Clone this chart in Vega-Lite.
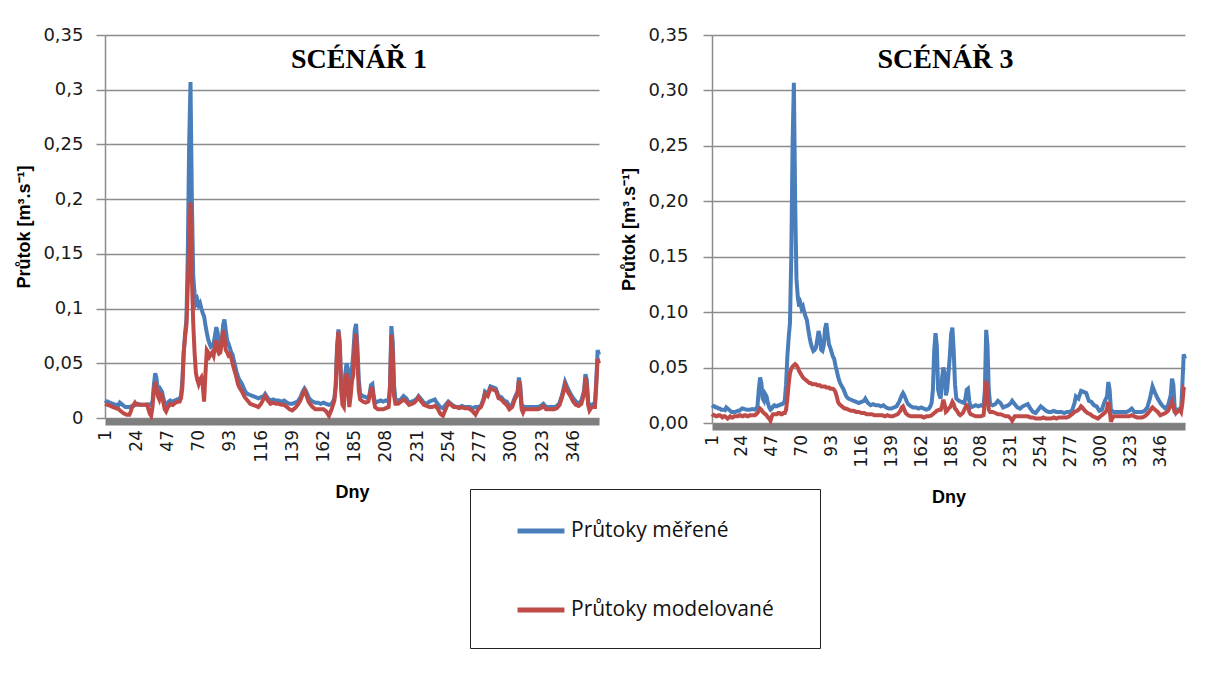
{
  "$schema": "https://vega.github.io/schema/vega-lite/v6.json",
  "background": "white",
  "padding": {"left": 15, "top": 26, "right": 0, "bottom": 0},
  "spacing": 13,
  "datasets": {
    "mereni": [
      {"den": 1, "prutok": 0.016}, {"den": 2, "prutok": 0.015}, {"den": 3, "prutok": 0.015}, {"den": 4, "prutok": 0.014}, {"den": 5, "prutok": 0.014},
      {"den": 6, "prutok": 0.013}, {"den": 7, "prutok": 0.013}, {"den": 8, "prutok": 0.012}, {"den": 9, "prutok": 0.012}, {"den": 10, "prutok": 0.012},
      {"den": 11, "prutok": 0.0115}, {"den": 12, "prutok": 0.014}, {"den": 13, "prutok": 0.013}, {"den": 14, "prutok": 0.012}, {"den": 15, "prutok": 0.011},
      {"den": 16, "prutok": 0.010}, {"den": 17, "prutok": 0.010}, {"den": 18, "prutok": 0.010}, {"den": 19, "prutok": 0.010}, {"den": 20, "prutok": 0.0105},
      {"den": 21, "prutok": 0.011}, {"den": 22, "prutok": 0.011}, {"den": 23, "prutok": 0.012}, {"den": 24, "prutok": 0.013}, {"den": 25, "prutok": 0.013},
      {"den": 26, "prutok": 0.0125}, {"den": 28, "prutok": 0.012}, {"den": 30, "prutok": 0.012}, {"den": 32, "prutok": 0.0125}, {"den": 34, "prutok": 0.012},
      {"den": 35, "prutok": 0.013}, {"den": 36, "prutok": 0.015}, {"den": 37, "prutok": 0.030}, {"den": 38, "prutok": 0.041}, {"den": 39, "prutok": 0.036},
      {"den": 40, "prutok": 0.022}, {"den": 41, "prutok": 0.020}, {"den": 42, "prutok": 0.026}, {"den": 43, "prutok": 0.024}, {"den": 44, "prutok": 0.018},
      {"den": 45, "prutok": 0.014}, {"den": 46, "prutok": 0.012}, {"den": 47, "prutok": 0.013}, {"den": 48, "prutok": 0.015}, {"den": 49, "prutok": 0.016},
      {"den": 50, "prutok": 0.015}, {"den": 51, "prutok": 0.015}, {"den": 52, "prutok": 0.016}, {"den": 53, "prutok": 0.016}, {"den": 54, "prutok": 0.017},
      {"den": 55, "prutok": 0.017}, {"den": 56, "prutok": 0.018}, {"den": 57, "prutok": 0.020}, {"den": 58, "prutok": 0.035}, {"den": 59, "prutok": 0.060},
      {"den": 60, "prutok": 0.077}, {"den": 61, "prutok": 0.090}, {"den": 62, "prutok": 0.150}, {"den": 63, "prutok": 0.250}, {"den": 64, "prutok": 0.307},
      {"den": 65, "prutok": 0.200}, {"den": 66, "prutok": 0.130}, {"den": 67, "prutok": 0.114}, {"den": 68, "prutok": 0.105}, {"den": 69, "prutok": 0.108},
      {"den": 70, "prutok": 0.103}, {"den": 71, "prutok": 0.105}, {"den": 72, "prutok": 0.100}, {"den": 73, "prutok": 0.096}, {"den": 74, "prutok": 0.093},
      {"den": 75, "prutok": 0.085}, {"den": 76, "prutok": 0.078}, {"den": 77, "prutok": 0.072}, {"den": 78, "prutok": 0.068}, {"den": 79, "prutok": 0.065},
      {"den": 80, "prutok": 0.066}, {"den": 81, "prutok": 0.068}, {"den": 82, "prutok": 0.075}, {"den": 83, "prutok": 0.083}, {"den": 84, "prutok": 0.078},
      {"den": 85, "prutok": 0.066}, {"den": 86, "prutok": 0.065}, {"den": 87, "prutok": 0.070}, {"den": 88, "prutok": 0.085}, {"den": 89, "prutok": 0.090},
      {"den": 90, "prutok": 0.080}, {"den": 91, "prutok": 0.071}, {"den": 92, "prutok": 0.068}, {"den": 93, "prutok": 0.064}, {"den": 94, "prutok": 0.060},
      {"den": 95, "prutok": 0.058}, {"den": 96, "prutok": 0.052}, {"den": 97, "prutok": 0.047}, {"den": 98, "prutok": 0.042}, {"den": 99, "prutok": 0.038},
      {"den": 100, "prutok": 0.035}, {"den": 101, "prutok": 0.033}, {"den": 102, "prutok": 0.031}, {"den": 103, "prutok": 0.028}, {"den": 104, "prutok": 0.025},
      {"den": 105, "prutok": 0.023}, {"den": 106, "prutok": 0.022}, {"den": 108, "prutok": 0.021}, {"den": 110, "prutok": 0.020}, {"den": 112, "prutok": 0.019},
      {"den": 114, "prutok": 0.018}, {"den": 116, "prutok": 0.019}, {"den": 118, "prutok": 0.020}, {"den": 119, "prutok": 0.022}, {"den": 120, "prutok": 0.020},
      {"den": 121, "prutok": 0.018}, {"den": 123, "prutok": 0.016}, {"den": 125, "prutok": 0.017}, {"den": 127, "prutok": 0.016}, {"den": 129, "prutok": 0.016},
      {"den": 131, "prutok": 0.015}, {"den": 133, "prutok": 0.016}, {"den": 135, "prutok": 0.014}, {"den": 137, "prutok": 0.013}, {"den": 139, "prutok": 0.013},
      {"den": 141, "prutok": 0.014}, {"den": 143, "prutok": 0.015}, {"den": 145, "prutok": 0.019}, {"den": 146, "prutok": 0.022}, {"den": 147, "prutok": 0.025},
      {"den": 148, "prutok": 0.027}, {"den": 149, "prutok": 0.025}, {"den": 150, "prutok": 0.022}, {"den": 151, "prutok": 0.019}, {"den": 152, "prutok": 0.017},
      {"den": 154, "prutok": 0.015}, {"den": 156, "prutok": 0.014}, {"den": 158, "prutok": 0.014}, {"den": 160, "prutok": 0.013}, {"den": 162, "prutok": 0.014},
      {"den": 164, "prutok": 0.013}, {"den": 166, "prutok": 0.012}, {"den": 168, "prutok": 0.013}, {"den": 169, "prutok": 0.015}, {"den": 170, "prutok": 0.018},
      {"den": 171, "prutok": 0.030}, {"den": 172, "prutok": 0.065}, {"den": 173, "prutok": 0.081}, {"den": 174, "prutok": 0.070}, {"den": 175, "prutok": 0.030},
      {"den": 176, "prutok": 0.025}, {"den": 177, "prutok": 0.022}, {"den": 178, "prutok": 0.040}, {"den": 179, "prutok": 0.050}, {"den": 180, "prutok": 0.045},
      {"den": 181, "prutok": 0.025}, {"den": 182, "prutok": 0.030}, {"den": 183, "prutok": 0.045}, {"den": 184, "prutok": 0.060}, {"den": 185, "prutok": 0.080},
      {"den": 186, "prutok": 0.086}, {"den": 187, "prutok": 0.065}, {"den": 188, "prutok": 0.035}, {"den": 189, "prutok": 0.022}, {"den": 190, "prutok": 0.021},
      {"den": 191, "prutok": 0.020}, {"den": 193, "prutok": 0.019}, {"den": 195, "prutok": 0.018}, {"den": 196, "prutok": 0.022}, {"den": 197, "prutok": 0.030},
      {"den": 198, "prutok": 0.031}, {"den": 199, "prutok": 0.020}, {"den": 200, "prutok": 0.014}, {"den": 202, "prutok": 0.015}, {"den": 204, "prutok": 0.016},
      {"den": 206, "prutok": 0.015}, {"den": 208, "prutok": 0.016}, {"den": 210, "prutok": 0.015}, {"den": 211, "prutok": 0.030}, {"den": 212, "prutok": 0.084},
      {"den": 213, "prutok": 0.070}, {"den": 214, "prutok": 0.030}, {"den": 215, "prutok": 0.017}, {"den": 217, "prutok": 0.016}, {"den": 219, "prutok": 0.017},
      {"den": 221, "prutok": 0.020}, {"den": 223, "prutok": 0.018}, {"den": 225, "prutok": 0.014}, {"den": 227, "prutok": 0.015}, {"den": 229, "prutok": 0.016},
      {"den": 231, "prutok": 0.018}, {"den": 232, "prutok": 0.020}, {"den": 234, "prutok": 0.017}, {"den": 236, "prutok": 0.014}, {"den": 238, "prutok": 0.013},
      {"den": 240, "prutok": 0.015}, {"den": 242, "prutok": 0.016}, {"den": 244, "prutok": 0.017}, {"den": 246, "prutok": 0.013}, {"den": 248, "prutok": 0.010},
      {"den": 250, "prutok": 0.009}, {"den": 252, "prutok": 0.012}, {"den": 254, "prutok": 0.015}, {"den": 256, "prutok": 0.013}, {"den": 258, "prutok": 0.011},
      {"den": 260, "prutok": 0.010}, {"den": 262, "prutok": 0.010}, {"den": 264, "prutok": 0.011}, {"den": 266, "prutok": 0.010}, {"den": 268, "prutok": 0.010},
      {"den": 270, "prutok": 0.010}, {"den": 272, "prutok": 0.009}, {"den": 274, "prutok": 0.010}, {"den": 276, "prutok": 0.010}, {"den": 278, "prutok": 0.011},
      {"den": 280, "prutok": 0.018}, {"den": 281, "prutok": 0.024}, {"den": 283, "prutok": 0.022}, {"den": 285, "prutok": 0.029}, {"den": 287, "prutok": 0.028},
      {"den": 289, "prutok": 0.027}, {"den": 291, "prutok": 0.020}, {"den": 293, "prutok": 0.019}, {"den": 295, "prutok": 0.016}, {"den": 297, "prutok": 0.015},
      {"den": 299, "prutok": 0.011}, {"den": 301, "prutok": 0.012}, {"den": 303, "prutok": 0.019}, {"den": 305, "prutok": 0.024}, {"den": 306, "prutok": 0.037},
      {"den": 307, "prutok": 0.030}, {"den": 308, "prutok": 0.012}, {"den": 310, "prutok": 0.010}, {"den": 312, "prutok": 0.010}, {"den": 314, "prutok": 0.010},
      {"den": 316, "prutok": 0.010}, {"den": 318, "prutok": 0.010}, {"den": 320, "prutok": 0.010}, {"den": 322, "prutok": 0.011}, {"den": 324, "prutok": 0.013},
      {"den": 326, "prutok": 0.010}, {"den": 328, "prutok": 0.010}, {"den": 330, "prutok": 0.010}, {"den": 332, "prutok": 0.010}, {"den": 334, "prutok": 0.011},
      {"den": 336, "prutok": 0.014}, {"den": 338, "prutok": 0.022}, {"den": 340, "prutok": 0.033}, {"den": 342, "prutok": 0.027}, {"den": 344, "prutok": 0.022},
      {"den": 346, "prutok": 0.018}, {"den": 348, "prutok": 0.015}, {"den": 350, "prutok": 0.013}, {"den": 352, "prutok": 0.016}, {"den": 354, "prutok": 0.025},
      {"den": 355, "prutok": 0.040}, {"den": 356, "prutok": 0.035}, {"den": 357, "prutok": 0.015}, {"den": 358, "prutok": 0.010}, {"den": 359, "prutok": 0.012},
      {"den": 360, "prutok": 0.012}, {"den": 361, "prutok": 0.013}, {"den": 362, "prutok": 0.012}, {"den": 363, "prutok": 0.035}, {"den": 364, "prutok": 0.062},
      {"den": 365, "prutok": 0.058}
    ],
    "scenar1": [
      {"den": 1, "prutok": 0.013}, {"den": 3, "prutok": 0.012}, {"den": 5, "prutok": 0.011}, {"den": 7, "prutok": 0.010}, {"den": 9, "prutok": 0.009},
      {"den": 11, "prutok": 0.008}, {"den": 13, "prutok": 0.006}, {"den": 15, "prutok": 0.004}, {"den": 17, "prutok": 0.003}, {"den": 19, "prutok": 0.003},
      {"den": 20, "prutok": 0.006}, {"den": 21, "prutok": 0.010}, {"den": 23, "prutok": 0.014}, {"den": 24, "prutok": 0.012}, {"den": 26, "prutok": 0.012},
      {"den": 28, "prutok": 0.012}, {"den": 30, "prutok": 0.012}, {"den": 32, "prutok": 0.012}, {"den": 34, "prutok": 0.004}, {"den": 35, "prutok": 0.002},
      {"den": 36, "prutok": 0.010}, {"den": 37, "prutok": 0.025}, {"den": 38, "prutok": 0.033}, {"den": 39, "prutok": 0.028}, {"den": 40, "prutok": 0.020},
      {"den": 41, "prutok": 0.017}, {"den": 42, "prutok": 0.022}, {"den": 43, "prutok": 0.021}, {"den": 44, "prutok": 0.014}, {"den": 45, "prutok": 0.008},
      {"den": 46, "prutok": 0.006}, {"den": 47, "prutok": 0.009}, {"den": 49, "prutok": 0.013}, {"den": 51, "prutok": 0.012}, {"den": 53, "prutok": 0.014},
      {"den": 55, "prutok": 0.015}, {"den": 56, "prutok": 0.015}, {"den": 57, "prutok": 0.018}, {"den": 58, "prutok": 0.028}, {"den": 59, "prutok": 0.060},
      {"den": 60, "prutok": 0.074}, {"den": 61, "prutok": 0.085}, {"den": 62, "prutok": 0.120}, {"den": 63, "prutok": 0.160}, {"den": 64, "prutok": 0.197},
      {"den": 65, "prutok": 0.130}, {"den": 66, "prutok": 0.087}, {"den": 67, "prutok": 0.060}, {"den": 68, "prutok": 0.041}, {"den": 69, "prutok": 0.035},
      {"den": 70, "prutok": 0.031}, {"den": 71, "prutok": 0.035}, {"den": 72, "prutok": 0.037}, {"den": 73, "prutok": 0.030}, {"den": 74, "prutok": 0.015},
      {"den": 75, "prutok": 0.040}, {"den": 76, "prutok": 0.062}, {"den": 77, "prutok": 0.060}, {"den": 78, "prutok": 0.056}, {"den": 79, "prutok": 0.058},
      {"den": 80, "prutok": 0.060}, {"den": 81, "prutok": 0.057}, {"den": 82, "prutok": 0.065}, {"den": 83, "prutok": 0.071}, {"den": 84, "prutok": 0.062},
      {"den": 85, "prutok": 0.059}, {"den": 86, "prutok": 0.060}, {"den": 87, "prutok": 0.068}, {"den": 88, "prutok": 0.080}, {"den": 89, "prutok": 0.074},
      {"den": 90, "prutok": 0.062}, {"den": 91, "prutok": 0.060}, {"den": 92, "prutok": 0.057}, {"den": 93, "prutok": 0.058}, {"den": 94, "prutok": 0.055},
      {"den": 95, "prutok": 0.050}, {"den": 96, "prutok": 0.045}, {"den": 97, "prutok": 0.041}, {"den": 98, "prutok": 0.036}, {"den": 99, "prutok": 0.031},
      {"den": 100, "prutok": 0.028}, {"den": 102, "prutok": 0.024}, {"den": 104, "prutok": 0.019}, {"den": 106, "prutok": 0.016}, {"den": 108, "prutok": 0.013},
      {"den": 110, "prutok": 0.012}, {"den": 112, "prutok": 0.011}, {"den": 114, "prutok": 0.010}, {"den": 116, "prutok": 0.013}, {"den": 118, "prutok": 0.018},
      {"den": 119, "prutok": 0.020}, {"den": 121, "prutok": 0.016}, {"den": 123, "prutok": 0.013}, {"den": 125, "prutok": 0.014}, {"den": 127, "prutok": 0.013},
      {"den": 129, "prutok": 0.013}, {"den": 131, "prutok": 0.012}, {"den": 133, "prutok": 0.012}, {"den": 135, "prutok": 0.010}, {"den": 137, "prutok": 0.008},
      {"den": 139, "prutok": 0.007}, {"den": 141, "prutok": 0.009}, {"den": 143, "prutok": 0.012}, {"den": 145, "prutok": 0.016}, {"den": 147, "prutok": 0.023},
      {"den": 148, "prutok": 0.025}, {"den": 149, "prutok": 0.022}, {"den": 151, "prutok": 0.015}, {"den": 152, "prutok": 0.013}, {"den": 154, "prutok": 0.010},
      {"den": 156, "prutok": 0.008}, {"den": 158, "prutok": 0.008}, {"den": 160, "prutok": 0.008}, {"den": 162, "prutok": 0.008}, {"den": 164, "prutok": 0.006},
      {"den": 166, "prutok": 0.002}, {"den": 168, "prutok": 0.008}, {"den": 170, "prutok": 0.016}, {"den": 171, "prutok": 0.028}, {"den": 172, "prutok": 0.062},
      {"den": 173, "prutok": 0.079}, {"den": 174, "prutok": 0.065}, {"den": 175, "prutok": 0.025}, {"den": 176, "prutok": 0.012}, {"den": 177, "prutok": 0.010},
      {"den": 178, "prutok": 0.030}, {"den": 179, "prutok": 0.041}, {"den": 180, "prutok": 0.030}, {"den": 181, "prutok": 0.010}, {"den": 182, "prutok": 0.020},
      {"den": 183, "prutok": 0.034}, {"den": 184, "prutok": 0.040}, {"den": 185, "prutok": 0.070}, {"den": 186, "prutok": 0.077}, {"den": 187, "prutok": 0.055},
      {"den": 188, "prutok": 0.025}, {"den": 189, "prutok": 0.017}, {"den": 191, "prutok": 0.015}, {"den": 193, "prutok": 0.014}, {"den": 195, "prutok": 0.015},
      {"den": 196, "prutok": 0.020}, {"den": 197, "prutok": 0.027}, {"den": 198, "prutok": 0.027}, {"den": 199, "prutok": 0.017}, {"den": 200, "prutok": 0.010},
      {"den": 202, "prutok": 0.008}, {"den": 204, "prutok": 0.008}, {"den": 206, "prutok": 0.008}, {"den": 208, "prutok": 0.009}, {"den": 210, "prutok": 0.010},
      {"den": 211, "prutok": 0.025}, {"den": 212, "prutok": 0.076}, {"den": 213, "prutok": 0.060}, {"den": 214, "prutok": 0.020}, {"den": 215, "prutok": 0.013},
      {"den": 217, "prutok": 0.013}, {"den": 219, "prutok": 0.015}, {"den": 221, "prutok": 0.017}, {"den": 223, "prutok": 0.015}, {"den": 225, "prutok": 0.012},
      {"den": 227, "prutok": 0.013}, {"den": 229, "prutok": 0.014}, {"den": 231, "prutok": 0.017}, {"den": 232, "prutok": 0.019}, {"den": 234, "prutok": 0.015},
      {"den": 236, "prutok": 0.012}, {"den": 238, "prutok": 0.011}, {"den": 240, "prutok": 0.010}, {"den": 242, "prutok": 0.010}, {"den": 244, "prutok": 0.011},
      {"den": 246, "prutok": 0.009}, {"den": 248, "prutok": 0.004}, {"den": 250, "prutok": 0.002}, {"den": 252, "prutok": 0.008}, {"den": 254, "prutok": 0.014},
      {"den": 256, "prutok": 0.012}, {"den": 258, "prutok": 0.010}, {"den": 260, "prutok": 0.010}, {"den": 262, "prutok": 0.009}, {"den": 264, "prutok": 0.010},
      {"den": 266, "prutok": 0.009}, {"den": 268, "prutok": 0.009}, {"den": 270, "prutok": 0.008}, {"den": 272, "prutok": 0.006}, {"den": 274, "prutok": 0.003},
      {"den": 276, "prutok": 0.008}, {"den": 278, "prutok": 0.010}, {"den": 280, "prutok": 0.016}, {"den": 281, "prutok": 0.022}, {"den": 283, "prutok": 0.020},
      {"den": 285, "prutok": 0.027}, {"den": 287, "prutok": 0.026}, {"den": 289, "prutok": 0.025}, {"den": 291, "prutok": 0.018}, {"den": 293, "prutok": 0.017},
      {"den": 295, "prutok": 0.014}, {"den": 297, "prutok": 0.012}, {"den": 299, "prutok": 0.008}, {"den": 301, "prutok": 0.010}, {"den": 303, "prutok": 0.017},
      {"den": 305, "prutok": 0.022}, {"den": 306, "prutok": 0.034}, {"den": 307, "prutok": 0.025}, {"den": 308, "prutok": 0.008}, {"den": 309, "prutok": 0.005},
      {"den": 310, "prutok": 0.008}, {"den": 312, "prutok": 0.008}, {"den": 314, "prutok": 0.008}, {"den": 316, "prutok": 0.008}, {"den": 318, "prutok": 0.008},
      {"den": 320, "prutok": 0.008}, {"den": 322, "prutok": 0.009}, {"den": 324, "prutok": 0.011}, {"den": 326, "prutok": 0.008}, {"den": 328, "prutok": 0.008},
      {"den": 330, "prutok": 0.008}, {"den": 332, "prutok": 0.008}, {"den": 334, "prutok": 0.009}, {"den": 336, "prutok": 0.012}, {"den": 338, "prutok": 0.020},
      {"den": 340, "prutok": 0.030}, {"den": 342, "prutok": 0.024}, {"den": 344, "prutok": 0.020}, {"den": 346, "prutok": 0.015}, {"den": 348, "prutok": 0.012},
      {"den": 350, "prutok": 0.011}, {"den": 352, "prutok": 0.013}, {"den": 354, "prutok": 0.022}, {"den": 355, "prutok": 0.037}, {"den": 356, "prutok": 0.030},
      {"den": 357, "prutok": 0.012}, {"den": 358, "prutok": 0.007}, {"den": 359, "prutok": 0.009}, {"den": 360, "prutok": 0.010}, {"den": 362, "prutok": 0.010},
      {"den": 363, "prutok": 0.030}, {"den": 364, "prutok": 0.054}, {"den": 365, "prutok": 0.050}
    ],
    "scenar3": [
      {"den": 1, "prutok": 0.008}, {"den": 2, "prutok": 0.007}, {"den": 3, "prutok": 0.007}, {"den": 4, "prutok": 0.006}, {"den": 5, "prutok": 0.006},
      {"den": 6, "prutok": 0.007}, {"den": 7, "prutok": 0.007}, {"den": 8, "prutok": 0.006}, {"den": 9, "prutok": 0.005}, {"den": 10, "prutok": 0.006},
      {"den": 11, "prutok": 0.006}, {"den": 12, "prutok": 0.005}, {"den": 13, "prutok": 0.004}, {"den": 14, "prutok": 0.005}, {"den": 15, "prutok": 0.006},
      {"den": 16, "prutok": 0.005}, {"den": 17, "prutok": 0.005}, {"den": 18, "prutok": 0.006}, {"den": 19, "prutok": 0.006}, {"den": 20, "prutok": 0.006},
      {"den": 21, "prutok": 0.006}, {"den": 22, "prutok": 0.007}, {"den": 23, "prutok": 0.007}, {"den": 24, "prutok": 0.006}, {"den": 25, "prutok": 0.006},
      {"den": 26, "prutok": 0.007}, {"den": 27, "prutok": 0.007}, {"den": 28, "prutok": 0.006}, {"den": 29, "prutok": 0.006}, {"den": 30, "prutok": 0.007},
      {"den": 31, "prutok": 0.007}, {"den": 32, "prutok": 0.007}, {"den": 33, "prutok": 0.007}, {"den": 34, "prutok": 0.007}, {"den": 35, "prutok": 0.008},
      {"den": 36, "prutok": 0.009}, {"den": 37, "prutok": 0.011}, {"den": 38, "prutok": 0.013}, {"den": 39, "prutok": 0.012}, {"den": 40, "prutok": 0.010},
      {"den": 41, "prutok": 0.009}, {"den": 42, "prutok": 0.008}, {"den": 43, "prutok": 0.007}, {"den": 44, "prutok": 0.005}, {"den": 45, "prutok": 0.004},
      {"den": 46, "prutok": 0.002}, {"den": 47, "prutok": 0.006}, {"den": 48, "prutok": 0.008}, {"den": 49, "prutok": 0.008}, {"den": 50, "prutok": 0.008},
      {"den": 51, "prutok": 0.008}, {"den": 52, "prutok": 0.009}, {"den": 53, "prutok": 0.009}, {"den": 54, "prutok": 0.008}, {"den": 55, "prutok": 0.008},
      {"den": 56, "prutok": 0.009}, {"den": 57, "prutok": 0.009}, {"den": 58, "prutok": 0.012}, {"den": 59, "prutok": 0.022}, {"den": 60, "prutok": 0.035},
      {"den": 61, "prutok": 0.045}, {"den": 62, "prutok": 0.049}, {"den": 63, "prutok": 0.051}, {"den": 64, "prutok": 0.052}, {"den": 65, "prutok": 0.053},
      {"den": 66, "prutok": 0.052}, {"den": 67, "prutok": 0.050}, {"den": 68, "prutok": 0.047}, {"den": 69, "prutok": 0.045}, {"den": 70, "prutok": 0.043},
      {"den": 71, "prutok": 0.041}, {"den": 72, "prutok": 0.040}, {"den": 73, "prutok": 0.039}, {"den": 74, "prutok": 0.038}, {"den": 75, "prutok": 0.037},
      {"den": 76, "prutok": 0.036}, {"den": 77, "prutok": 0.036}, {"den": 78, "prutok": 0.035}, {"den": 79, "prutok": 0.035}, {"den": 80, "prutok": 0.035},
      {"den": 81, "prutok": 0.035}, {"den": 82, "prutok": 0.034}, {"den": 83, "prutok": 0.034}, {"den": 84, "prutok": 0.034}, {"den": 85, "prutok": 0.033},
      {"den": 86, "prutok": 0.033}, {"den": 87, "prutok": 0.033}, {"den": 88, "prutok": 0.033}, {"den": 89, "prutok": 0.032}, {"den": 90, "prutok": 0.032},
      {"den": 91, "prutok": 0.032}, {"den": 92, "prutok": 0.031}, {"den": 93, "prutok": 0.031}, {"den": 94, "prutok": 0.031}, {"den": 95, "prutok": 0.030},
      {"den": 96, "prutok": 0.028}, {"den": 97, "prutok": 0.024}, {"den": 98, "prutok": 0.019}, {"den": 99, "prutok": 0.017}, {"den": 100, "prutok": 0.016},
      {"den": 101, "prutok": 0.015}, {"den": 102, "prutok": 0.014}, {"den": 103, "prutok": 0.013}, {"den": 104, "prutok": 0.013}, {"den": 106, "prutok": 0.012},
      {"den": 108, "prutok": 0.011}, {"den": 110, "prutok": 0.011}, {"den": 112, "prutok": 0.010}, {"den": 114, "prutok": 0.010}, {"den": 116, "prutok": 0.009},
      {"den": 118, "prutok": 0.009}, {"den": 120, "prutok": 0.008}, {"den": 122, "prutok": 0.008}, {"den": 124, "prutok": 0.008}, {"den": 126, "prutok": 0.007},
      {"den": 128, "prutok": 0.007}, {"den": 130, "prutok": 0.007}, {"den": 132, "prutok": 0.007}, {"den": 134, "prutok": 0.006}, {"den": 136, "prutok": 0.007},
      {"den": 138, "prutok": 0.006}, {"den": 140, "prutok": 0.006}, {"den": 142, "prutok": 0.007}, {"den": 144, "prutok": 0.008}, {"den": 146, "prutok": 0.011},
      {"den": 147, "prutok": 0.014}, {"den": 148, "prutok": 0.015}, {"den": 149, "prutok": 0.012}, {"den": 150, "prutok": 0.009}, {"den": 152, "prutok": 0.007},
      {"den": 154, "prutok": 0.006}, {"den": 156, "prutok": 0.006}, {"den": 158, "prutok": 0.006}, {"den": 160, "prutok": 0.006}, {"den": 162, "prutok": 0.006},
      {"den": 164, "prutok": 0.005}, {"den": 166, "prutok": 0.006}, {"den": 168, "prutok": 0.006}, {"den": 170, "prutok": 0.007}, {"den": 172, "prutok": 0.009},
      {"den": 173, "prutok": 0.010}, {"den": 174, "prutok": 0.011}, {"den": 176, "prutok": 0.012}, {"den": 177, "prutok": 0.012}, {"den": 178, "prutok": 0.015},
      {"den": 179, "prutok": 0.021}, {"den": 180, "prutok": 0.017}, {"den": 181, "prutok": 0.010}, {"den": 182, "prutok": 0.011}, {"den": 183, "prutok": 0.013},
      {"den": 184, "prutok": 0.014}, {"den": 185, "prutok": 0.016}, {"den": 186, "prutok": 0.019}, {"den": 187, "prutok": 0.017}, {"den": 188, "prutok": 0.013},
      {"den": 189, "prutok": 0.012}, {"den": 190, "prutok": 0.010}, {"den": 191, "prutok": 0.008}, {"den": 192, "prutok": 0.007}, {"den": 194, "prutok": 0.009},
      {"den": 196, "prutok": 0.014}, {"den": 197, "prutok": 0.016}, {"den": 198, "prutok": 0.015}, {"den": 199, "prutok": 0.010}, {"den": 200, "prutok": 0.008},
      {"den": 202, "prutok": 0.007}, {"den": 204, "prutok": 0.006}, {"den": 206, "prutok": 0.006}, {"den": 208, "prutok": 0.006}, {"den": 210, "prutok": 0.007},
      {"den": 211, "prutok": 0.020}, {"den": 212, "prutok": 0.038}, {"den": 213, "prutok": 0.030}, {"den": 214, "prutok": 0.012}, {"den": 215, "prutok": 0.010},
      {"den": 217, "prutok": 0.010}, {"den": 219, "prutok": 0.009}, {"den": 221, "prutok": 0.008}, {"den": 223, "prutok": 0.008}, {"den": 225, "prutok": 0.007},
      {"den": 227, "prutok": 0.006}, {"den": 229, "prutok": 0.006}, {"den": 231, "prutok": 0.004}, {"den": 232, "prutok": 0.002}, {"den": 233, "prutok": 0.004},
      {"den": 234, "prutok": 0.006}, {"den": 236, "prutok": 0.006}, {"den": 238, "prutok": 0.006}, {"den": 240, "prutok": 0.006}, {"den": 242, "prutok": 0.006},
      {"den": 244, "prutok": 0.006}, {"den": 246, "prutok": 0.005}, {"den": 248, "prutok": 0.005}, {"den": 250, "prutok": 0.004}, {"den": 252, "prutok": 0.004},
      {"den": 254, "prutok": 0.004}, {"den": 256, "prutok": 0.005}, {"den": 258, "prutok": 0.004}, {"den": 260, "prutok": 0.004}, {"den": 262, "prutok": 0.004},
      {"den": 264, "prutok": 0.005}, {"den": 266, "prutok": 0.004}, {"den": 268, "prutok": 0.005}, {"den": 270, "prutok": 0.005}, {"den": 272, "prutok": 0.005},
      {"den": 274, "prutok": 0.005}, {"den": 276, "prutok": 0.006}, {"den": 278, "prutok": 0.008}, {"den": 280, "prutok": 0.010}, {"den": 282, "prutok": 0.011},
      {"den": 284, "prutok": 0.013}, {"den": 285, "prutok": 0.015}, {"den": 286, "prutok": 0.014}, {"den": 288, "prutok": 0.011}, {"den": 290, "prutok": 0.009},
      {"den": 292, "prutok": 0.008}, {"den": 294, "prutok": 0.006}, {"den": 296, "prutok": 0.005}, {"den": 298, "prutok": 0.004}, {"den": 300, "prutok": 0.006},
      {"den": 302, "prutok": 0.008}, {"den": 304, "prutok": 0.010}, {"den": 305, "prutok": 0.013}, {"den": 306, "prutok": 0.019}, {"den": 307, "prutok": 0.012},
      {"den": 308, "prutok": 0.001}, {"den": 309, "prutok": 0.004}, {"den": 310, "prutok": 0.006}, {"den": 312, "prutok": 0.006}, {"den": 314, "prutok": 0.006},
      {"den": 316, "prutok": 0.006}, {"den": 318, "prutok": 0.006}, {"den": 320, "prutok": 0.006}, {"den": 322, "prutok": 0.006}, {"den": 324, "prutok": 0.007},
      {"den": 326, "prutok": 0.006}, {"den": 328, "prutok": 0.005}, {"den": 330, "prutok": 0.005}, {"den": 332, "prutok": 0.005}, {"den": 334, "prutok": 0.006},
      {"den": 336, "prutok": 0.008}, {"den": 338, "prutok": 0.011}, {"den": 340, "prutok": 0.014}, {"den": 342, "prutok": 0.012}, {"den": 344, "prutok": 0.010},
      {"den": 346, "prutok": 0.007}, {"den": 348, "prutok": 0.008}, {"den": 350, "prutok": 0.009}, {"den": 352, "prutok": 0.011}, {"den": 354, "prutok": 0.016},
      {"den": 355, "prutok": 0.019}, {"den": 356, "prutok": 0.015}, {"den": 357, "prutok": 0.010}, {"den": 358, "prutok": 0.009}, {"den": 359, "prutok": 0.010},
      {"den": 360, "prutok": 0.011}, {"den": 361, "prutok": 0.012}, {"den": 362, "prutok": 0.010}, {"den": 363, "prutok": 0.018}, {"den": 364, "prutok": 0.031},
      {"den": 365, "prutok": 0.030}
    ]
  },
  "hconcat": [
    {
      "width": 494,
      "height": 383,
      "title": {"text": "SCÉNÁŘ 1", "dx": 7},
      "encoding": {
        "x": {"field": "den", "type": "quantitative", "scale": {"domain": [1, 365], "nice": false, "zero": false},
              "axis": {"title": "Dny", "labelOverlap": false, "labelSeparation": 0,
                       "values": [1, 24, 47, 70, 93, 116, 139, 162, 185, 208, 231, 254, 277, 300, 323, 346]}},
        "y": {"field": "prutok", "type": "quantitative", "scale": {"domain": [0, 0.35], "nice": false},
              "axis": {"title": "Průtok [m³.s⁻¹]", "values": [0, 0.05, 0.1, 0.15, 0.2, 0.25, 0.3, 0.35],
                       "labelExpr": "replace(format(datum.value, '.2~f'), '.', ',')", "labelPadding": 13}}
      },
      "layer": [
        {
          "data": {"name": "mereni"},
          "mark": {"type": "line", "strokeWidth": 4},
          "encoding": {
            "color": {"datum": "Průtoky měřené", "type": "nominal",
                      "legend": {"title": " ", "titleOrient": "bottom", "titleFontSize": 8, "titlePadding": 4,
                                 "labelExpr": "datum.label + '\u2800\u2800'",
                                 "orient": "none", "legendX": 365, "legendY": 454}}
          }
        },
        {
          "data": {"name": "scenar1"},
          "mark": {"type": "line", "strokeWidth": 4},
          "encoding": {
            "color": {"datum": "Průtoky modelované", "type": "nominal"}
          }
        }
      ]
    },
    {
      "width": 473,
      "height": 388,
      "title": {"text": "SCÉNÁŘ 3", "dx": -3},
      "encoding": {
        "x": {"field": "den", "type": "quantitative", "scale": {"domain": [1, 365], "nice": false, "zero": false},
              "axis": {"title": "Dny", "labelOverlap": false, "labelSeparation": 0,
                       "values": [1, 24, 47, 70, 93, 116, 139, 162, 185, 208, 231, 254, 277, 300, 323, 346]}},
        "y": {"field": "prutok", "type": "quantitative", "scale": {"domain": [0, 0.35], "nice": false},
              "axis": {"title": "Průtok [m³.s⁻¹]", "values": [0, 0.05, 0.1, 0.15, 0.2, 0.25, 0.3, 0.35],
                       "labelExpr": "replace(format(datum.value, '.2f'), '.', ',')", "labelPadding": 15}}
      },
      "layer": [
        {
          "data": {"name": "mereni"},
          "mark": {"type": "line", "strokeWidth": 4},
          "encoding": {
            "color": {"datum": "Průtoky měřené", "type": "nominal"}
          }
        },
        {
          "data": {"name": "scenar3"},
          "mark": {"type": "line", "strokeWidth": 4},
          "encoding": {
            "color": {"datum": "Průtoky modelované", "type": "nominal"}
          }
        }
      ]
    }
  ],
  "resolve": {"scale": {"color": "shared"}},
  "config": {
    "font": "DejaVu Sans",
    "view": {"stroke": null},
    "range": {"category": ["#4A7EBB", "#BE4B48"]},
    "axis": {
      "labelFont": "DejaVu Sans",
      "labelFontSize": 17,
      "labelColor": "#1a1a1a",
      "titleFont": "Liberation Sans",
      "titleFontWeight": "bold",
      "titleFontSize": 18,
      "titleColor": "#000000",
      "gridColor": "#8c8c8c",
      "gridWidth": 1.5,
      "domainColor": "#8c8c8c",
      "domainWidth": 1.5,
      "tickColor": "#8c8c8c",
      "tickWidth": 1.5
    },
    "axisX": {
      "grid": false,
      "ticks": false,
      "labelAngle": -90,
      "labelOverlap": false,
      "domainWidth": 7,
      "domainColor": "#7f7f7f",
      "offset": 3.5,
      "labelPadding": 8,
      "titlePadding": 22
    },
    "axisY": {
      "tickSize": 9,
      "titlePadding": 9,
      "labelFontSize": 18
    },
    "title": {
      "font": "Liberation Serif",
      "fontSize": 28,
      "fontWeight": "bold",
      "color": "#000000",
      "frame": "group",
      "offset": -47.5,
      "baseline": "middle"
    },
    "legend": {
      "symbolType": "stroke",
      "symbolSize": 2200,
      "symbolStrokeWidth": 5,
      "symbolOffset": 29,
      "padding": 16,
      "rowPadding": 43,
      "labelFont": "Open Sans",
      "labelFontSize": 21,
      "labelLimit": 0,
      "labelColor": "#111111",
      "labelOffset": 4,
      "strokeColor": "#222222"
    }
  }
}
